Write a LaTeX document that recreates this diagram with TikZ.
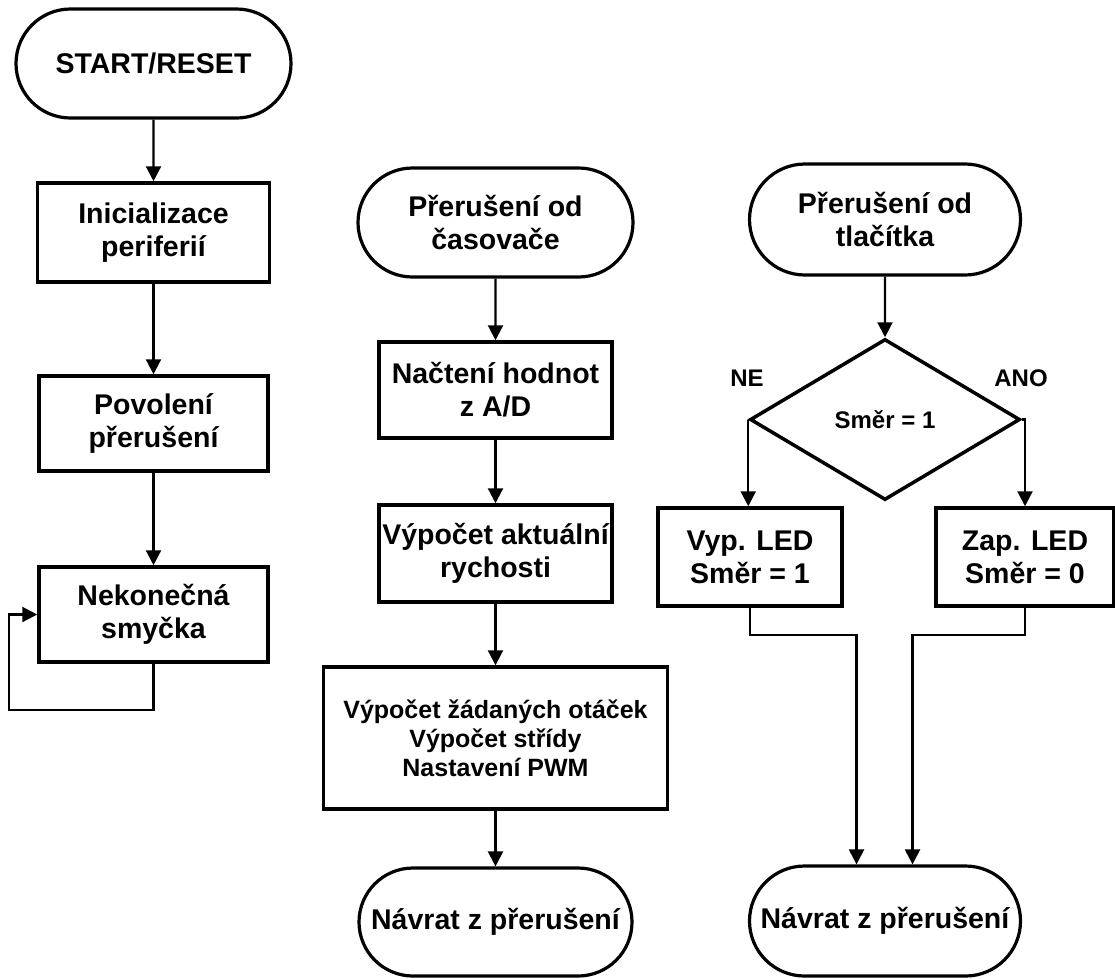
\documentclass[tikz,border=0pt]{standalone}
\usepackage{fontspec}
\setmainfont{Liberation Sans}
\usetikzlibrary{arrows.meta,shapes.misc,shapes.geometric}
\tikzset{
  big/.style={font=\fontsize{28.5}{33}\selectfont\bfseries},
  small/.style={font=\fontsize{25}{29}\selectfont\bfseries},
  lbl/.style={font=\fontsize{24}{28}\selectfont\bfseries, inner sep=0pt},
  box/.style={draw, line width=3.5pt, rectangle, inner sep=0pt, align=center, big},
  term/.style={draw, line width=3.2pt, rounded rectangle, inner sep=0pt, align=center, big},
  decide/.style={draw, line width=3.5pt, diamond, inner sep=0pt, align=center, lbl},
  arr/.style={line width=2.2pt, -{Triangle[length=15pt,width=15pt]}}
}
\begin{document}
\begin{tikzpicture}[x=1pt,y=-1pt]
\useasboundingbox[fill=white] (0,0) rectangle (1115,978);

% left column
\node[term, minimum width=275pt, minimum height=109pt] (start) at (153.5,63.5) {START/RESET};
\node[box, minimum width=232pt, minimum height=99pt] (init) at (153.5,232.5) {Inicializace\\periferií};
\node[box, minimum width=229pt, minimum height=95pt] (pov) at (153.5,423.5) {Povolení\\přerušení};
\node[box, minimum width=229pt, minimum height=95pt] (nek) at (153.5,614.5) {Nekonečná\\smyčka};

% middle column
\node[term, minimum width=275pt, minimum height=109pt] (tim) at (495.5,222.5) {Přerušení od\\časovače};
\node[box, minimum width=233pt, minimum height=96pt] (nac) at (495.5,390) {Načtení hodnot\\z A/D};
\node[box, minimum width=233pt, minimum height=97pt] (akt) at (495.5,553.5) {Výpočet aktuální\\rychosti};
\node[box, small, minimum width=344pt, minimum height=142pt] (zad) at (495.5,738) {Výpočet žádaných otáček\\Výpočet střídy\\Nastavení PWM};
\node[term, minimum width=273pt, minimum height=108pt] (ret1) at (495.5,922) {Návrat z přerušení};

% right column
\node[term, minimum width=271pt, minimum height=111pt] (btn) at (885,219.5) {Přerušení od\\tlačítka};
\node[decide, minimum width=270pt, minimum height=161pt] (dec) at (885,419.5) {Směr = 1};
\node[box, minimum width=184pt, minimum height=98pt] (vyp) at (750,557) {Vyp. LED\\Směr = 1};
\node[box, minimum width=178pt, minimum height=98pt] (zap) at (1025,557) {Zap. LED\\Směr = 0};
\node[term, minimum width=271pt, minimum height=110pt] (ret2) at (885,921) {Návrat z přerušení};

\node[lbl] (ne) at (747,378) {NE};
\node[lbl] (ano) at (1021,378) {ANO};

% connectors left
\draw[arr] (start) -- (init);
\draw[arr] (init) -- (pov);
\draw[arr] (pov) -- (nek);
\draw[arr] (nek.south) -- ++(0,46) -| ([xshift=-28pt]nek.west) -- (nek.west);

% connectors middle
\draw[arr] (tim) -- (nac);
\draw[arr] (nac) -- (akt);
\draw[arr] (akt) -- (zad);
\draw[arr] (zad) -- (ret1);

% connectors right
\draw[arr] (btn) -- (dec);
\draw[arr] (dec.west) -- (dec.west |- vyp.north);
\draw[arr] (dec.east) -| (zap.north);
\draw[arr] (vyp.south) -- ++(0,27) -| ([xshift=-28.5pt]ret2.north);
\draw[arr] (zap.south) -- ++(0,27) -| ([xshift=27.5pt]ret2.north);
\end{tikzpicture}
\end{document}
